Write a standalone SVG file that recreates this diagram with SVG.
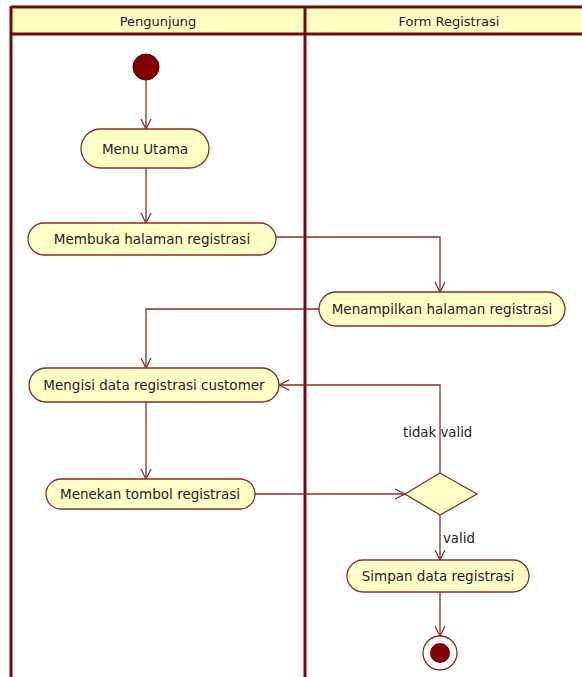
<svg xmlns="http://www.w3.org/2000/svg" width="582" height="677" viewBox="0 0 582 677">
  <style>
    .lane { fill: none; stroke: #6e0c0c; stroke-width: 3; }
    .hdr { fill: #ffffc2; stroke: none; }
    .node { fill: #ffffc6; stroke: #84302a; stroke-width: 1.3; }
    .lbl { font-family: "DejaVu Sans", "Liberation Sans", sans-serif; font-size: 13.5px; fill: #1c1c2c; text-anchor: middle; dominant-baseline: central; }
    .head { font-size: 13px; }
    .edge { fill: none; stroke: #84302a; stroke-width: 1.3; }
    .elbl { font-family: "DejaVu Sans", "Liberation Sans", sans-serif; font-size: 13.3px; fill: #1c1c2c; dominant-baseline: central; }
  </style>
  <defs>
    <marker id="open" viewBox="0 0 12 12" refX="11" refY="6" markerWidth="12" markerHeight="12" markerUnits="userSpaceOnUse" orient="auto">
      <path d="M1,1 L11,6 L1,11" fill="none" stroke="#84302a" stroke-width="1.3"/>
      <circle cx="11" cy="6" r="1.3" fill="#84302a"/>
    </marker>
  </defs>

  <rect width="582" height="677" fill="#ffffff"/>

  <!-- swimlanes -->
  <g id="lanes">
    <rect class="hdr" x="11" y="7" width="580" height="27"/>
    <line class="lane" x1="11" y1="7" x2="582" y2="7"/>
    <line class="lane" x1="11" y1="34" x2="582" y2="34"/>
    <line class="lane" x1="11" y1="6" x2="11" y2="677"/>
    <line class="lane" x1="305" y1="6" x2="305" y2="677"/>
    <text class="lbl head" x="158" y="21">Pengunjung</text>
    <text class="lbl head" x="449" y="21">Form Registrasi</text>
  </g>

  <!-- connectors -->
  <g id="connectors">
    <path class="edge" d="M146,80 L146,129" marker-end="url(#open)"/>
    <path class="edge" d="M146,168 L146,223" marker-end="url(#open)"/>
    <path class="edge" d="M276,237 L440,237 L440,292" marker-end="url(#open)"/>
    <path class="edge" d="M319,309 L146,309 L146,368" marker-end="url(#open)"/>
    <path class="edge" d="M146,402 L146,479" marker-end="url(#open)"/>
    <path class="edge" d="M255,494 L405,494" marker-end="url(#open)"/>
    <path class="edge" d="M440,473 L440,385 L279,385" marker-end="url(#open)"/>
    <path class="edge" d="M440,515 L440,560" marker-end="url(#open)"/>
    <path class="edge" d="M440,592 L440,636" marker-end="url(#open)"/>
    <text class="elbl" x="403" y="432">tidak valid</text>
    <text class="elbl" x="443" y="538">valid</text>
  </g>

  <!-- nodes -->
  <g id="start">
    <circle cx="146" cy="67" r="13" fill="#800000" stroke="#5a0000" stroke-width="1"/>
  </g>
  <g id="menu-utama">
    <rect class="node" x="81" y="129" width="128" height="39" rx="19.5"/>
    <text class="lbl" x="145" y="148.5">Menu Utama</text>
  </g>
  <g id="membuka-halaman">
    <rect class="node" x="28" y="223" width="248" height="32" rx="16"/>
    <text class="lbl" x="152" y="239">Membuka halaman registrasi</text>
  </g>
  <g id="menampilkan-halaman">
    <rect class="node" x="319" y="292" width="246" height="34" rx="17"/>
    <text class="lbl" x="442" y="309">Menampilkan halaman registrasi</text>
  </g>
  <g id="mengisi-data">
    <rect class="node" x="29" y="368" width="250" height="34" rx="17"/>
    <text class="lbl" x="154" y="385">Mengisi data registrasi customer</text>
  </g>
  <g id="menekan-tombol">
    <rect class="node" x="46" y="479" width="209" height="30" rx="15"/>
    <text class="lbl" x="150" y="494">Menekan tombol registrasi</text>
  </g>
  <g id="decision">
    <polygon class="node" points="440,473 477,494 440,515 405,494"/>
  </g>
  <g id="simpan-data">
    <rect class="node" x="347" y="560" width="182" height="32" rx="16"/>
    <text class="lbl" x="438" y="576">Simpan data registrasi</text>
  </g>
  <g id="end">
    <circle cx="440" cy="653" r="17" fill="#ffffff" stroke="#84302a" stroke-width="1.3"/>
    <circle cx="440" cy="653" r="10" fill="#800000"/>
  </g>
</svg>
